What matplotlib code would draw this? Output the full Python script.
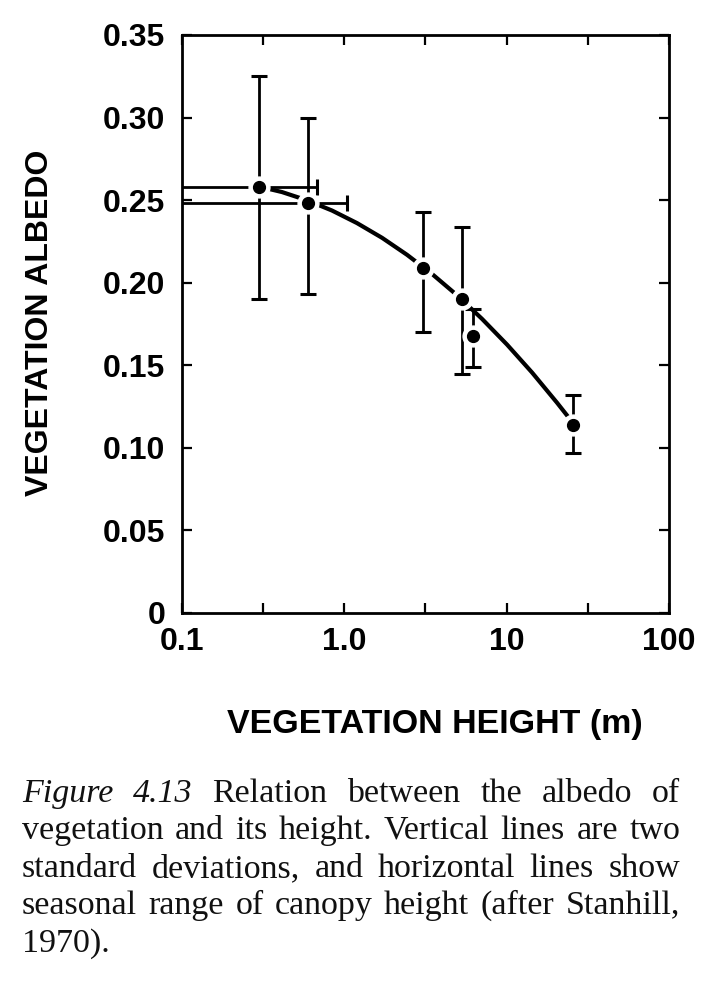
import numpy as np
import matplotlib
matplotlib.use("Agg")
import matplotlib.pyplot as plt

plt.rcParams['font.family'] = ['Liberation Sans', 'DejaVu Sans']
plt.rcParams['font.weight'] = 'bold'

# -----------------------
# Data
# -----------------------
height = [0.30, 0.60, 3.07, 5.29, 6.23, 25.8]          # vegetation height (m)
albedo = [0.258, 0.248, 0.209, 0.190, 0.168, 0.114]
albedo_hi = [0.325, 0.300, 0.243, 0.234, 0.184, 0.132]  # top of 2 s.d. bar
albedo_lo = [0.190, 0.193, 0.170, 0.145, 0.149, 0.097]  # bottom of 2 s.d. bar

# seasonal range of canopy height (only the two shortest crops)
range_height = [0.30, 0.60]
range_albedo = [0.258, 0.248]
range_lo = [0.08, 0.08]      # runs off the left edge of the axes
range_hi = [0.676, 1.035]

# fitted curve
curve_x = [0.293, 0.413, 0.589, 0.840, 1.197, 1.707, 2.434, 3.47, 4.95, 7.05,
           10.06, 14.34, 20.44, 25.8]
curve_y = [0.2584, 0.2549, 0.2499, 0.2437, 0.2361, 0.2272, 0.2169, 0.2053, 0.1924,
           0.1781, 0.1625, 0.1456, 0.1273, 0.1147]

xticks = [0.1, 0.316, 1.0, 3.16, 10, 31.6, 100]
xticklabels = ['0.1', '', '1.0', '', '10', '', '100']
yticks = [0, 0.05, 0.10, 0.15, 0.20, 0.25, 0.30, 0.35]
yticklabels = ['0', '0.05', '0.10', '0.15', '0.20', '0.25', '0.30', '0.35']

caption = [
    [('Figure', 'italic'), ('4.13', 'italic'), ('Relation', 'normal'), ('between', 'normal'),
     ('the', 'normal'), ('albedo', 'normal'), ('of', 'normal')],
    'vegetation and its height. Vertical lines are two',
    'standard deviations, and horizontal lines show',
    'seasonal range of canopy height (after Stanhill,',
    '1970).',
]

# -----------------------
# Figure
# -----------------------
W, H = 720, 1002
fig = plt.figure(figsize=(W / 100, H / 100), dpi=100)
ax = fig.add_axes([182 / W, 1 - 613 / H, 487 / W, 578 / H])

ax.plot(curve_x, curve_y, color='black', lw=3, solid_capstyle='round', zorder=2)

a = np.array(albedo)
ax.errorbar(height, albedo, yerr=[a - np.array(albedo_lo), np.array(albedo_hi) - a],
            fmt='none', ecolor='black', elinewidth=2, capsize=5.5, capthick=2.2, zorder=2)
rh = np.array(range_height)
ax.errorbar(range_height, range_albedo, xerr=[rh - np.array(range_lo), np.array(range_hi) - rh],
            fmt='none', ecolor='black', elinewidth=2, capsize=5.5, capthick=2.2, zorder=2)

# white halo then the dot, so lines break around each point
ax.plot(height, albedo, 'o', ms=15, color='white', mec='white', zorder=3)
ax.plot(height, albedo, 'o', ms=8.5, color='black', zorder=4)

ax.set_xscale('log')
ax.set_xlim(0.1, 100)
ax.set_ylim(0, 0.35)
ax.set_xticks(xticks)
ax.set_xticklabels(xticklabels)
ax.minorticks_off()
ax.set_yticks(yticks)
ax.set_yticklabels(yticklabels)

ax.tick_params(direction='in', length=7, width=1.6, top=True, right=True, labelsize=23)
ax.tick_params(axis='x', pad=10)
ax.tick_params(axis='y', pad=12)
for s in ax.spines.values():
    s.set_linewidth(2)

ax.set_ylabel('VEGETATION ALBEDO', fontsize=23, fontweight='bold')
ax.yaxis.set_label_coords(-0.261, 0.502)
ax.set_xlabel('VEGETATION HEIGHT (m)', fontsize=24.5, fontweight='bold')
ax.xaxis.set_label_coords(0.5195, -0.166)

# -----------------------
# Caption (justified, serif)
# -----------------------
renderer = fig.canvas.get_renderer()
cap_size = 24.5
left_px, right_px = 22, 680
baselines = [802, 839, 877, 914, 952]

for i, line in enumerate(caption):
    if isinstance(line, str):
        words = [(w, 'normal') for w in line.split()]
    else:
        words = line
    y = 1 - baselines[i] / H
    arts = [fig.text(0, y, w, fontsize=cap_size, family='Liberation Serif', style=st,
                     fontweight='normal', color='#111111', va='baseline', ha='left')
            for w, st in words]
    widths = [t.get_window_extent(renderer).width for t in arts]
    last = i == len(caption) - 1
    if last or len(arts) == 1:
        gap = 0.25 * cap_size * 100 / 72
    else:
        gap = (right_px - left_px - sum(widths)) / (len(arts) - 1)
    x = left_px
    for t, wd in zip(arts, widths):
        t.set_x(x / W)
        x += wd + gap

fig.savefig('out.png', dpi=100)
